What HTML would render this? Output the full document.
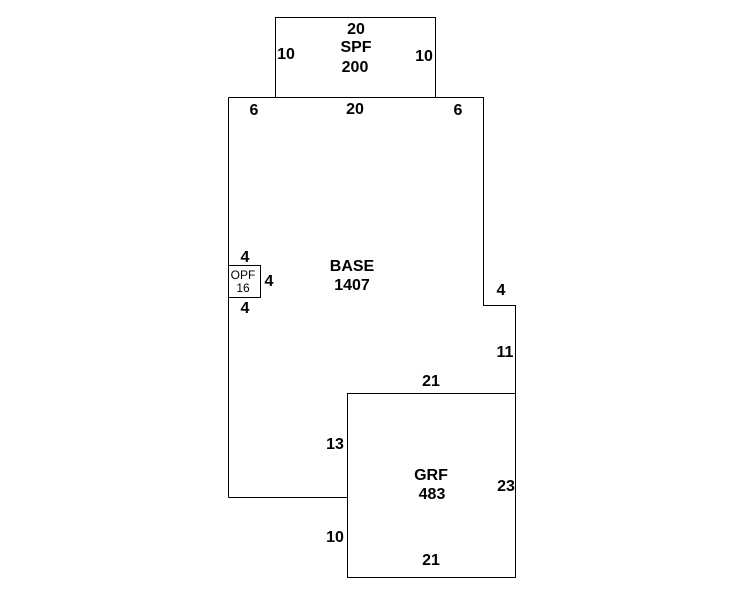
<!DOCTYPE html>
<html><head><style>
html,body{margin:0;padding:0;background:#fff;}
svg{display:block;}
text{font-family:"Liberation Sans",Arial,sans-serif;font-weight:bold;font-size:16px;fill:#000;text-anchor:middle;}
.s{font-weight:normal;font-size:12px;}
</style></head><body>
<svg width="746" height="595" viewBox="0 0 746 595" xmlns="http://www.w3.org/2000/svg">
<g fill="none" stroke="#000" stroke-width="1">
<rect x="275.5" y="17.5" width="160" height="80"/>
<polyline points="228.5,97.5 483.5,97.5 483.5,305.5 515.5,305.5 515.5,393.5"/>
<line x1="228.5" y1="97.5" x2="228.5" y2="497.5"/>
<line x1="228.5" y1="497.5" x2="347.5" y2="497.5"/>
<rect x="347.5" y="393.5" width="168" height="184"/>
<rect x="228.5" y="265.5" width="32" height="32"/>
</g>
<text x="356" y="34">20</text>
<text x="356" y="52">SPF</text>
<text x="355" y="72">200</text>
<text x="286" y="59">10</text>
<text x="424" y="61">10</text>
<text x="254" y="115">6</text>
<text x="355" y="114">20</text>
<text x="458" y="115">6</text>
<text x="352" y="271">BASE</text>
<text x="352" y="290">1407</text>
<text x="245" y="262">4</text>
<text x="269" y="286">4</text>
<text x="245" y="313">4</text>
<text class="s" x="243" y="279">OPF</text>
<text class="s" x="243" y="292">16</text>
<text x="501" y="295">4</text>
<text x="505" y="357">11</text>
<text x="431" y="386">21</text>
<text x="335" y="449">13</text>
<text x="431" y="480">GRF</text>
<text x="432" y="499">483</text>
<text x="506" y="491">23</text>
<text x="335" y="542">10</text>
<text x="431" y="565">21</text>
</svg>
</body></html>
